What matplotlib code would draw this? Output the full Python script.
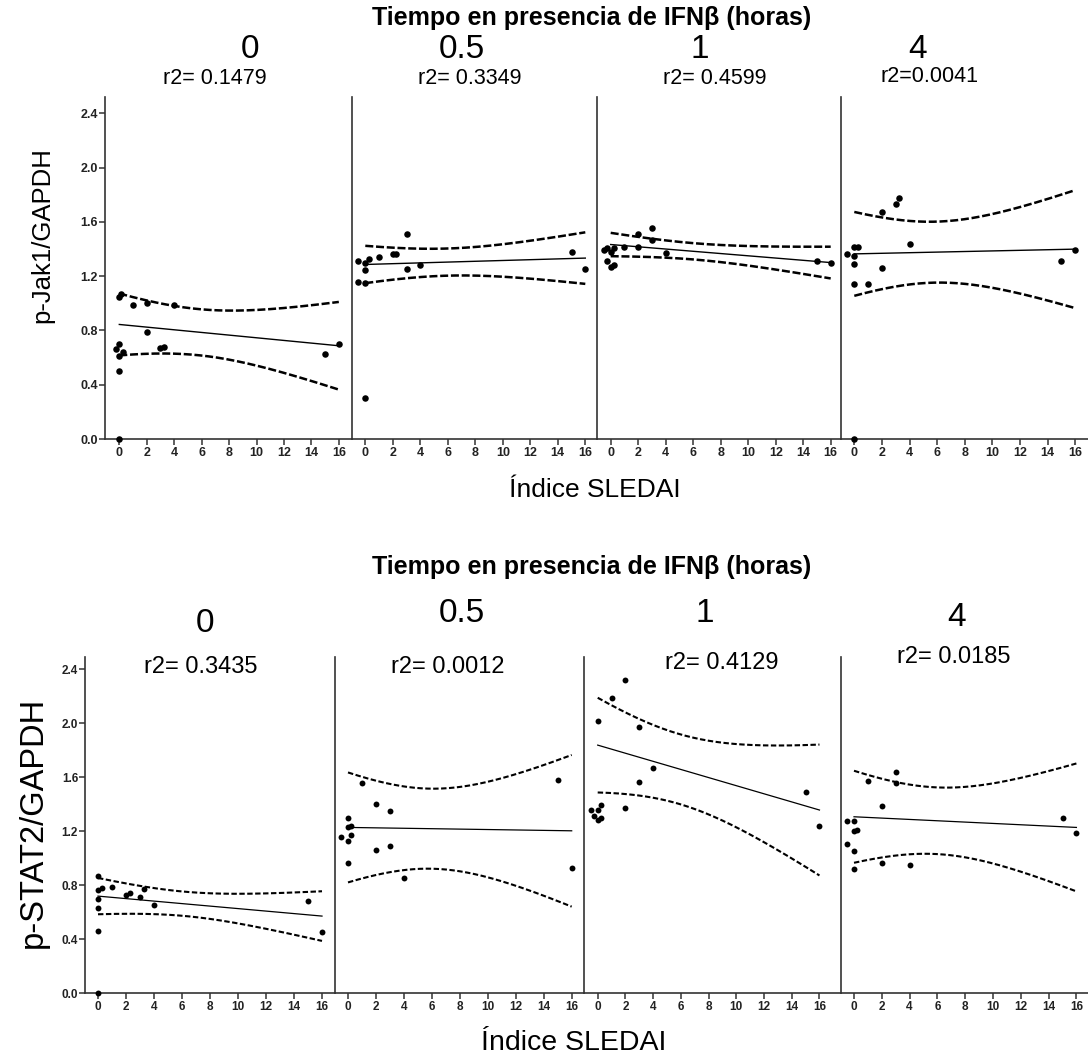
import numpy as np
import matplotlib
matplotlib.use('Agg')
import matplotlib.pyplot as plt

plt.rcParams['font.family'] = ['Liberation Sans', 'DejaVu Sans']

W, H = 1088, 1058

# ---------------- data ----------------
times = ['0', '0.5', '1', '4']
xticks = [0, 2, 4, 6, 8, 10, 12, 14, 16]
yticks = [0.0, 0.4, 0.8, 1.2, 1.6, 2.0, 2.4]
title = 'Tiempo en presencia de IFN\u03b2 (horas)'
xlabel = '\u00cdndice SLEDAI'

# Top block: p-Jak1/GAPDH
jak_label = 'p-Jak1/GAPDH'
jak_r2 = ['r2= 0.1479', 'r2= 0.3349', 'r2= 0.4599', 'r2=0.0041']
jak_x_0 = [-0.25, 0, 0.1, 0, 0.25, 0, 0, 0, 1, 2, 2, 3, 3.25, 4, 15, 16]
jak_y_0 = [0.66, 1.05, 1.065, 0.70, 0.64, 0.61, 0.50, 0.0, 0.99, 1.00, 0.79, 0.67, 0.675, 0.99, 0.63, 0.70]
jak_x_05 = [-0.5, 0, 0.25, 0, -0.5, 0, 0, 1, 2, 2.25, 3, 3, 4, 15, 16]
jak_y_05 = [1.315, 1.30, 1.33, 1.247, 1.156, 1.151, 0.30, 1.34, 1.362, 1.364, 1.51, 1.254, 1.283, 1.38, 1.254]
jak_x_1 = [-0.5, -0.3, -0.25, 0, 0, 0.25, 0.25, 1, 2, 2, 3, 3, 4, 15, 16]
jak_y_1 = [1.396, 1.41, 1.31, 1.377, 1.266, 1.279, 1.41, 1.418, 1.418, 1.51, 1.553, 1.463, 1.372, 1.31, 1.298]
jak_x_4 = [-0.5, 0, 0.25, 0, 0, 0, 1, 2, 2, 3, 3.25, 4, 0, 15, 16]
jak_y_4 = [1.364, 1.416, 1.416, 1.35, 1.29, 1.141, 1.144, 1.671, 1.261, 1.733, 1.779, 1.44, 0.0, 1.308, 1.396]
# fitted value at SLEDAI 0 and 16
jak_fit_0 = [0.844, 1.286, 1.433, 1.364]
jak_fit_16 = [0.687, 1.333, 1.300, 1.399]
# 95% band half-width at 0, at 16, and minimum
jak_hw_0 = [0.228, 0.1375, 0.086, 0.309]
jak_hw_16 = [0.323, 0.190, 0.117, 0.4345]
jak_hw_min = [0.170, 0.100, 0.060, 0.2245]

# Bottom block: p-STAT2/GAPDH
stat_label = 'p-STAT2/GAPDH'
stat_r2 = ['r2= 0.3435', 'r2= 0.0012', 'r2= 0.4129', 'r2= 0.0185']
stat_x_0 = [0, 0, 0.25, 0, 0, 0, 0, 1, 2, 2.25, 3, 3.25, 4, 15, 16]
stat_y_0 = [0.869, 0.763, 0.78, 0.70, 0.632, 0.462, 0.0, 0.788, 0.723, 0.743, 0.714, 0.768, 0.652, 0.684, 0.452]
stat_x_05 = [-0.5, 0, 0, 0.25, 0.25, 0, 0, 1, 2, 2, 3, 3, 4, 15, 16]
stat_y_05 = [1.158, 1.294, 1.227, 1.237, 1.168, 1.128, 0.965, 1.553, 1.402, 1.059, 1.348, 1.089, 0.849, 1.578, 0.926]
stat_x_1 = [-0.5, -0.25, 0, 0, 0.25, 0.25, 0, 1, 2, 2, 3, 3, 4, 15, 16]
stat_y_1 = [1.356, 1.311, 1.356, 1.281, 1.294, 1.393, 2.015, 2.188, 2.319, 1.368, 1.973, 1.565, 1.669, 1.486, 1.24]
stat_x_4 = [-0.5, 0, 0, 0.25, -0.5, 0, 0, 1, 2, 2, 3, 3, 4, 15, 16]
stat_y_4 = [1.277, 1.277, 1.20, 1.21, 1.104, 1.054, 0.921, 1.573, 1.388, 0.96, 1.64, 1.558, 0.948, 1.299, 1.188]
stat_fit_0 = [0.718, 1.227, 1.837, 1.306]
stat_fit_16 = [0.570, 1.202, 1.356, 1.227]
stat_hw_0 = [0.1345, 0.4075, 0.351, 0.341]
stat_hw_16 = [0.184, 0.562, 0.485, 0.474]
stat_hw_min = [0.090, 0.2965, 0.259, 0.247]

jak_xs = [jak_x_0, jak_x_05, jak_x_1, jak_x_4]
jak_ys = [jak_y_0, jak_y_05, jak_y_1, jak_y_4]
stat_xs = [stat_x_0, stat_x_05, stat_x_1, stat_x_4]
stat_ys = [stat_y_0, stat_y_05, stat_y_1, stat_y_4]

# ---------------- layout (pixels) ----------------
fig = plt.figure(figsize=(W / 100, H / 100), dpi=100)
fig.patch.set_facecolor('white')

def ptxt(x, y, s, **kw):
    fig.text(x / W, 1 - y / H, s, ha='center', va='center', **kw)

def band(f0, f16, w0, w16, wmin):
    x = np.linspace(0, 16, 200)
    line = f0 + (f16 - f0) * x / 16
    a = w0 ** 2 - wmin ** 2
    b = w16 ** 2 - wmin ** 2
    xc = 16 / (1 + np.sqrt(b / a))
    k2 = a / xc ** 2
    hw = np.sqrt(wmin ** 2 + k2 * (x - xc) ** 2)
    return x, line + hw, line - hw

def make_row(edges, zeros, units, ytop_px, ybot_px, ytop_val, xs, ys, f0s, f16s,
             w0s, w16s, wmins, tick_fs, lw_band, dash, lw_line, ms):
    axes = []
    for i in range(4):
        l, r = edges[i], edges[i + 1]
        ax = fig.add_axes([l / W, 1 - ybot_px / H, (r - l) / W, (ybot_px - ytop_px) / H])
        ax.set_xlim((l - zeros[i]) / units[i], (r - zeros[i]) / units[i])
        ax.set_ylim(0, ytop_val)
        for s in ['top', 'right']:
            ax.spines[s].set_visible(False)
        for s in ['left', 'bottom']:
            ax.spines[s].set_color('#333333')
            ax.spines[s].set_linewidth(1.2)
        ax.set_xticks(xticks)
        ax.set_xticklabels([str(t) for t in xticks], fontsize=tick_fs, fontweight='bold', color='#222222')
        ax.tick_params(axis='x', direction='out', length=4, width=1.1, color='#333333', pad=2)
        if i == 0:
            ax.set_yticks(yticks)
            ax.set_yticklabels(['%.1f' % t for t in yticks], fontsize=tick_fs, fontweight='bold', color='#222222')
            ax.tick_params(axis='y', direction='out', length=4, width=1.1, color='#333333', pad=1)
        else:
            ax.set_yticks([])
        ax.patch.set_alpha(0)
        bx, up, lo = band(f0s[i], f16s[i], w0s[i], w16s[i], wmins[i])
        ax.plot(bx, up, color='black', lw=lw_band, linestyle=(0, dash))
        ax.plot(bx, lo, color='black', lw=lw_band, linestyle=(0, dash))
        ax.plot([0, 16], [f0s[i], f16s[i]], color='black', lw=lw_line)
        ax.scatter(xs[i], ys[i], s=ms, color='black', zorder=5, clip_on=False, linewidths=0)
        axes.append(ax)
    return axes

# top row
make_row([105, 351.7, 597.3, 841, 1088], [119.3, 365.3, 610.7, 854.3], [13.72, 13.75, 13.75, 13.8],
         97, 439, 2.52, jak_xs, jak_ys, jak_fit_0, jak_fit_16, jak_hw_0, jak_hw_16, jak_hw_min,
         9, 1.8, (3.2, 1.1), 1.0, 22)
# bottom row
make_row([85, 335, 584, 841, 1088], [98, 348, 597.7, 854], [14.0, 13.98, 13.86, 13.9],
         657, 993, 2.49, stat_xs, stat_ys, stat_fit_0, stat_fit_16, stat_hw_0, stat_hw_16, stat_hw_min,
         8.5, 1.5, (2.6, 1.2), 0.9, 18)

# ---------------- texts ----------------
ptxt(592, 18, title, fontsize=18, fontweight='bold')
for t, x, y in zip(times, [250, 462, 700, 918], [50, 50, 50, 50]):
    ptxt(x, y, t, fontsize=24)
for t, x, y in zip(jak_r2, [215, 470, 715, 930], [79, 79, 79, 77]):
    ptxt(x, y, t, fontsize=15.5)
ptxt(42, 235, jak_label, fontsize=18.5, rotation=90)
ptxt(595, 490, xlabel, fontsize=19)

ptxt(592, 567, title, fontsize=18, fontweight='bold')
for t, x, y in zip(times, [205, 462, 705, 957], [624, 614, 614, 617]):
    ptxt(x, y, t, fontsize=24)
for t, x, y in zip(stat_r2, [201, 448, 722, 954], [667, 667, 663, 657]):
    ptxt(x, y, t, fontsize=17)
ptxt(33, 822, stat_label, fontsize=23.5, rotation=90)
ptxt(574, 1043, xlabel, fontsize=20.5)

fig.savefig('out.png', dpi=100, facecolor='white')
